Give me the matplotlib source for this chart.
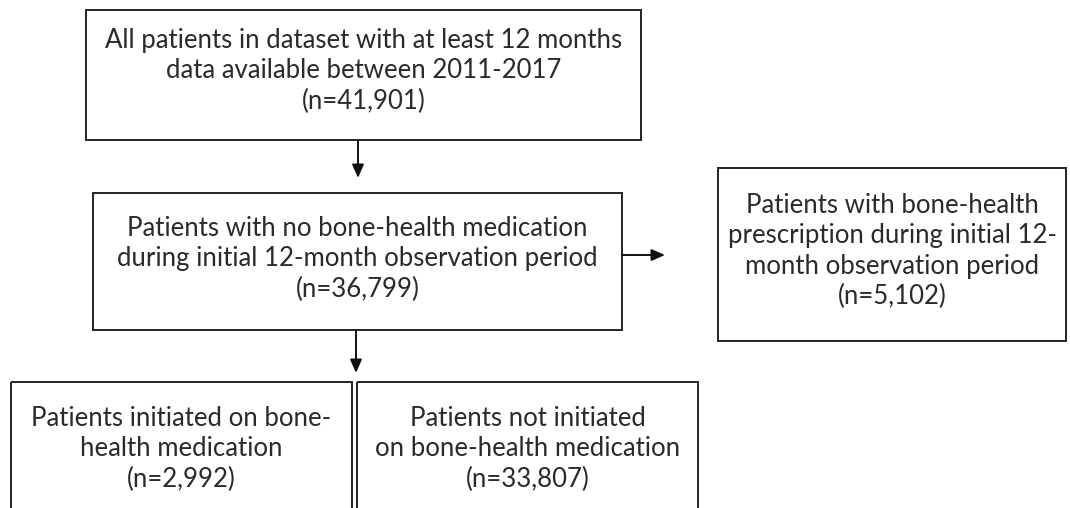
import matplotlib.pyplot as plt
from matplotlib.patches import Rectangle

# box texts (flowchart of patient selection)
box_texts = [
    "All patients in dataset with at least 12 months\ndata available between 2011-2017\n(n=41,901)",
    "Patients with no bone-health medication\nduring initial 12-month observation period\n(n=36,799)",
    "Patients with bone-health\nprescription during initial 12-\nmonth observation period\n(n=5,102)",
    "Patients initiated on bone-\nhealth medication\n(n=2,992)",
    "Patients not initiated\non bone-health medication\n(n=33,807)",
]

# layout in pixels: (left, top, right, bottom), text centre y
boxes = [
    (86, 10, 641, 140, 71),
    (93, 193, 622, 330, 259),
    (718, 168, 1066, 341, 251),
    (11, 382, 352, 530, 449),
    (357, 382, 698, 530, 449),
]

fig = plt.figure(figsize=(10.7, 5.08), dpi=100)
ax = fig.add_axes([0, 0, 1, 1])
ax.set_xlim(0, 1070)
ax.set_ylim(508, 0)
ax.axis("off")

for (l, t, r, b, ty), txt in zip(boxes, box_texts):
    ax.add_patch(Rectangle((l, t), r - l, b - t, fill=False, edgecolor="#222222", lw=1.4))
    ax.text((l + r) / 2, ty, txt, ha="center", va="center", fontsize=18.5,
            family="Lato", color="#2a2a2a", linespacing=1.28)

arrow_kw = dict(arrowstyle="-|>,head_length=0.8,head_width=0.35", color="#111111", lw=1.4,
                shrinkA=0, shrinkB=0)
ax.annotate("", xy=(358, 178), xytext=(358, 140), arrowprops=arrow_kw)
ax.annotate("", xy=(665, 255), xytext=(622, 255), arrowprops=arrow_kw)
ax.annotate("", xy=(356, 373), xytext=(356, 330), arrowprops=arrow_kw)

plt.savefig("out.png", dpi=100)
